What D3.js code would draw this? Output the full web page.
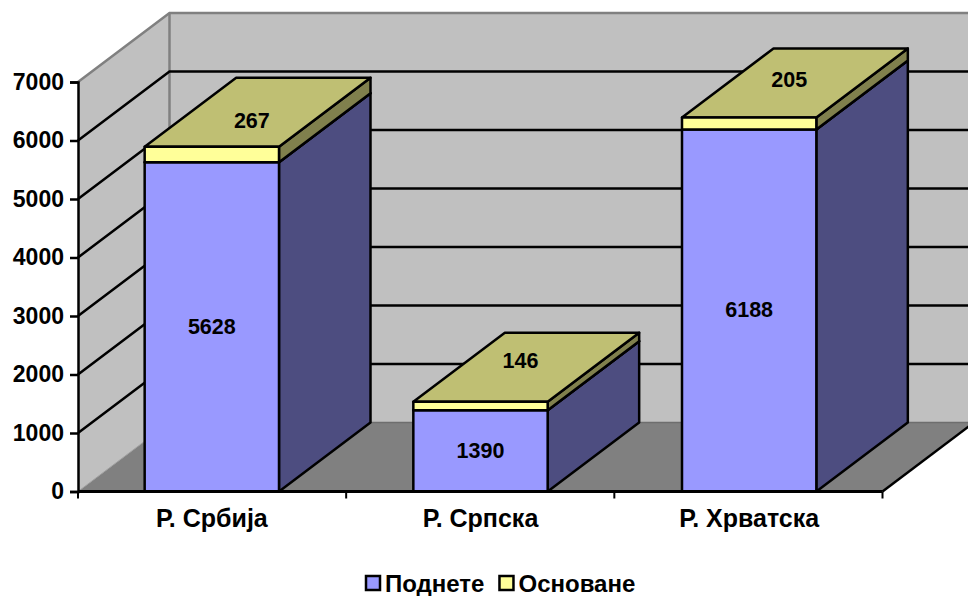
<!DOCTYPE html>
<html>
<head>
<meta charset="utf-8">
<script src="https://cdn.jsdelivr.net/npm/d3@7"></script>
<style>
  html, body { margin: 0; padding: 0; background: #fff; }
  svg { display: block; }
  text { font-family: "Liberation Sans", Arial, sans-serif; font-weight: bold; fill: #000; }
</style>
</head>
<body>
<svg width="968" height="596"></svg>
<script>
const categories = ['Р. Србија', 'Р. Српска', 'Р. Хрватска'];
const seriesNames = ['Поднете', 'Основане'];
const podnete = [5628, 1390, 6188];
const osnovane = [267, 146, 205];
const yTicks = [0, 1000, 2000, 3000, 4000, 5000, 6000, 7000];

const svg = d3.select('svg');

// Front plane of the chart, and how far the depth axis shifts things
const x0 = 78, x1 = 882.5, yBottom = 491.5, yTop = 82;
const depthX = 91.5, depthY = -69;

const x = d3.scaleBand().domain(categories).range([77.5, 883.5]).paddingInner(0.5).paddingOuter(0.25);
const y = d3.scaleLinear().domain([0, 7000]).range([yBottom, yTop]);

const colors = {
  wall: '#c0c0c0', wallEdge: '#808080', floor: '#808080',
  front: ['#9999ff', '#ffff99'],
  side: ['#4d4d80', '#80804d'],
  top: ['#4d4d80', '#bfbf73']
};

const poly = d3.line();
const chart = svg.append('g');

// Back wall runs off the right edge of the picture
chart.append('rect')
    .attr('x', x0 + depthX).attr('y', y(7000) + depthY)
    .attr('width', 968 - x0 - depthX).attr('height', yBottom - yTop)
    .attr('fill', colors.wall);
chart.append('path')
    .attr('d', poly([[x0, y(7000)], [x0 + depthX, y(7000) + depthY], [x0 + depthX, yBottom + depthY], [x0, yBottom]]))
    .attr('fill', colors.wall);

// Floor
chart.append('path')
    .attr('d', poly([[x0, yBottom], [x0 + depthX, yBottom + depthY], [x1 + depthX, yBottom + depthY], [x1, yBottom]]))
    .attr('fill', colors.floor);
chart.append('line')
    .attr('x1', x0 + depthX).attr('y1', yBottom + depthY)
    .attr('x2', 968).attr('y2', yBottom + depthY)
    .attr('stroke', '#6e6e6e').attr('stroke-width', 1.5);
chart.append('line')
    .attr('x1', x0).attr('y1', yBottom)
    .attr('x2', x0 + depthX).attr('y2', yBottom + depthY)
    .attr('stroke', '#a0a0a0').attr('stroke-width', 1);
chart.append('line')
    .attr('x1', x1).attr('y1', yBottom)
    .attr('x2', x1 + depthX).attr('y2', yBottom + depthY)
    .attr('stroke', '#000').attr('stroke-width', 2.5);

// Wall outlines
chart.append('path')
    .attr('d', poly([[x0, y(7000)], [x0 + depthX, y(7000) + depthY], [968, y(7000) + depthY]]))
    .attr('fill', 'none').attr('stroke', colors.wallEdge).attr('stroke-width', 2.5);
chart.append('line')
    .attr('x1', x0 + depthX).attr('y1', y(7000) + depthY)
    .attr('x2', x0 + depthX).attr('y2', yBottom + depthY)
    .attr('stroke', colors.wallEdge).attr('stroke-width', 2.5);

// Gridlines along the left wall and the back wall
const grid = yTicks.filter(d => d > 0 && d < 7000);
chart.selectAll('path.grid').data(grid)
    .join('path')
      .attr('class', 'grid')
      .attr('d', d => poly([[x0, y(d)], [x0 + depthX, y(d) + depthY], [968, y(d) + depthY]]))
      .attr('fill', 'none')
      .attr('stroke', '#000')
      .attr('stroke-width', 2.5);

// Stacked 3D bars
const rows = categories.map((c, i) => ({ category: c, podnete: podnete[i], osnovane: osnovane[i] }));
const stacked = d3.stack().keys(['podnete', 'osnovane'])(rows);

const bars = chart.selectAll('g.bar').data(rows)
    .join('g').attr('class', 'bar');

bars.each(function(row, i) {
  const g = d3.select(this);
  const left = x(row.category), right = left + x.bandwidth();
  stacked.forEach((layer, s) => {
    const yLow = y(layer[i][0]), yHigh = y(layer[i][1]);
    const faces = [
      [colors.side[s], [[right, yLow], [right + depthX, yLow + depthY], [right + depthX, yHigh + depthY], [right, yHigh]]],
      [colors.top[s], [[left, yHigh], [left + depthX, yHigh + depthY], [right + depthX, yHigh + depthY], [right, yHigh]]],
      [colors.front[s], [[left, yLow], [right, yLow], [right, yHigh], [left, yHigh]]]
    ];
    g.selectAll(null).data(faces)
      .join('path')
        .attr('d', d => poly(d[1]) + 'Z')
        .attr('fill', d => d[0])
        .attr('stroke', '#000')
        .attr('stroke-width', 2.5)
        .attr('stroke-linejoin', 'round');
  });
});

// Value labels: the lower series sits mid-front, the upper one on the lid
const lidNudge = [-26, -41, -38];
bars.append('text')
    .attr('x', d => x(d.category) + x.bandwidth() / 2)
    .attr('y', d => y(d.podnete / 2) - 1)
    .attr('dy', '0.36em')
    .attr('text-anchor', 'middle')
    .attr('font-size', 21.5)
    .text(d => d.podnete);
bars.append('text')
    .attr('x', d => x(d.category) + x.bandwidth() / 2 + 40)
    .attr('y', (d, i) => y(d.podnete + d.osnovane) + lidNudge[i])
    .attr('dy', '0.36em')
    .attr('text-anchor', 'middle')
    .attr('font-size', 21.5)
    .text(d => d.osnovane);

// Axes
const yAxis = svg.append('g')
    .attr('transform', `translate(${x0},0)`)
    .call(d3.axisLeft(y).tickValues(yTicks).tickSize(8).tickPadding(6).tickFormat(d3.format('d')));
const xAxis = svg.append('g')
    .attr('transform', `translate(0,${yBottom})`)
    .call(d3.axisBottom(x).tickSize(0).tickPadding(18));

yAxis.selectAll('path, line').attr('stroke', '#000').attr('stroke-width', 2.5);
yAxis.selectAll('text').attr('font-size', 23).attr('font-family', null).attr('dy', '0.32em');
xAxis.select('path').attr('stroke', '#000').attr('stroke-width', 3).attr('d', `M${x0},0H${x1}`);
xAxis.selectAll('text').attr('font-size', 25).attr('font-family', null).attr('dy', '0.68em');

// x ticks fall between the categories
const sepX = d3.scaleLinear().domain([0, categories.length]).range([x0, x1]);
xAxis.selectAll('line.sep').data(d3.range(categories.length + 1))
    .join('line')
      .attr('class', 'sep')
      .attr('x1', d => sepX(d)).attr('x2', d => sepX(d))
      .attr('y1', 0).attr('y2', 7)
      .attr('stroke', '#000').attr('stroke-width', 2);

// Legend
const legend = svg.append('g').attr('transform', 'translate(365,583)');
let lx = 0;
seriesNames.forEach((name, i) => {
  legend.append('rect')
      .attr('x', lx + 1).attr('y', -7)
      .attr('width', 14).attr('height', 14)
      .attr('fill', colors.front[i])
      .attr('stroke', '#000').attr('stroke-width', 2.5);
  const t = legend.append('text')
      .attr('x', lx + 20).attr('dy', '0.36em')
      .attr('font-size', 24)
      .text(name);
  lx += 20 + t.node().getComputedTextLength() + 14;
});
</script>
</body>
</html>
